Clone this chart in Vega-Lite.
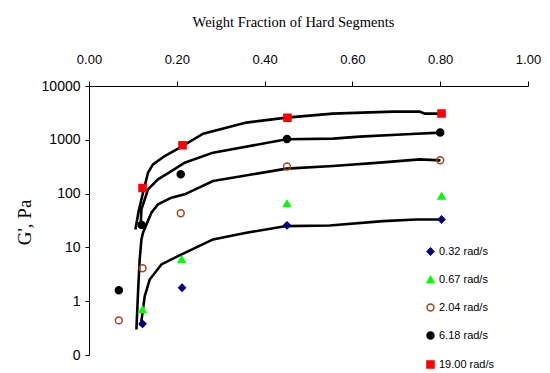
{
  "$schema": "https://vega.github.io/schema/vega-lite/v6.json",
  "width": 439,
  "height": 269,
  "autosize": {"type": "none"},
  "padding": {"left": 89, "top": 86, "right": 22, "bottom": 18},
  "background": "white",
  "datasets": {
    "curves": [
      {"curve": "c19", "x": 0.1057, "y": 21.6},
      {"curve": "c19", "x": 0.1132, "y": 47.3},
      {"curve": "c19", "x": 0.1230, "y": 104},
      {"curve": "c19", "x": 0.1344, "y": 245},
      {"curve": "c19", "x": 0.1458, "y": 350},
      {"curve": "c19", "x": 0.1724, "y": 499},
      {"curve": "c19", "x": 0.2050, "y": 700},
      {"curve": "c19", "x": 0.2600, "y": 1300},
      {"curve": "c19", "x": 0.3585, "y": 2088},
      {"curve": "c19", "x": 0.4497, "y": 2587},
      {"curve": "c19", "x": 0.5551, "y": 3070},
      {"curve": "c19", "x": 0.6925, "y": 3345},
      {"curve": "c19", "x": 0.7533, "y": 3345},
      {"curve": "c19", "x": 0.7647, "y": 3070},
      {"curve": "c19", "x": 0.8027, "y": 3070},
      {"curve": "c618", "x": 0.1178, "y": 25.6},
      {"curve": "c618", "x": 0.1194, "y": 50.9},
      {"curve": "c618", "x": 0.1344, "y": 120},
      {"curve": "c618", "x": 0.1572, "y": 184},
      {"curve": "c618", "x": 0.1877, "y": 262},
      {"curve": "c618", "x": 0.2180, "y": 376},
      {"curve": "c618", "x": 0.2825, "y": 577},
      {"curve": "c618", "x": 0.4497, "y": 1021},
      {"curve": "c618", "x": 0.5558, "y": 1052},
      {"curve": "c618", "x": 0.6166, "y": 1146},
      {"curve": "c618", "x": 0.7230, "y": 1265},
      {"curve": "c618", "x": 0.8005, "y": 1360},
      {"curve": "c204", "x": 0.1080, "y": 0.297},
      {"curve": "c204", "x": 0.1120, "y": 1.65},
      {"curve": "c204", "x": 0.1155, "y": 5.97},
      {"curve": "c204", "x": 0.1194, "y": 14.1},
      {"curve": "c204", "x": 0.1230, "y": 18.7},
      {"curve": "c204", "x": 0.1421, "y": 44.2},
      {"curve": "c204", "x": 0.1572, "y": 63},
      {"curve": "c204", "x": 0.1877, "y": 84},
      {"curve": "c204", "x": 0.2180, "y": 97},
      {"curve": "c204", "x": 0.2825, "y": 171},
      {"curve": "c204", "x": 0.4497, "y": 291},
      {"curve": "c204", "x": 0.5558, "y": 325},
      {"curve": "c204", "x": 0.6622, "y": 376},
      {"curve": "c204", "x": 0.7533, "y": 433},
      {"curve": "c204", "x": 0.8005, "y": 415},
      {"curve": "c032", "x": 0.1178, "y": 0.343},
      {"curve": "c032", "x": 0.1269, "y": 1.24},
      {"curve": "c032", "x": 0.1383, "y": 2.53},
      {"curve": "c032", "x": 0.1649, "y": 4.82},
      {"curve": "c032", "x": 0.2027, "y": 6.88},
      {"curve": "c032", "x": 0.2825, "y": 14.1},
      {"curve": "c032", "x": 0.3585, "y": 18.7},
      {"curve": "c032", "x": 0.4497, "y": 24.9},
      {"curve": "c032", "x": 0.5483, "y": 25.6},
      {"curve": "c032", "x": 0.6697, "y": 30.8},
      {"curve": "c032", "x": 0.7458, "y": 33.1},
      {"curve": "c032", "x": 0.8027, "y": 33.1}
    ],
    "points": [
      {"series": "0.32 rad/s", "x": 0.122, "y": 0.38},
      {"series": "0.32 rad/s", "x": 0.212, "y": 1.78},
      {"series": "0.32 rad/s", "x": 0.451, "y": 25.7},
      {"series": "0.32 rad/s", "x": 0.803, "y": 33},
      {"series": "0.67 rad/s", "x": 0.122, "y": 0.70},
      {"series": "0.67 rad/s", "x": 0.211, "y": 6.0},
      {"series": "0.67 rad/s", "x": 0.451, "y": 65},
      {"series": "0.67 rad/s", "x": 0.803, "y": 90},
      {"series": "2.04 rad/s", "x": 0.068, "y": 0.44},
      {"series": "2.04 rad/s", "x": 0.122, "y": 4.1},
      {"series": "2.04 rad/s", "x": 0.209, "y": 43},
      {"series": "2.04 rad/s", "x": 0.451, "y": 318},
      {"series": "2.04 rad/s", "x": 0.800, "y": 417},
      {"series": "6.18 rad/s", "x": 0.068, "y": 1.6},
      {"series": "6.18 rad/s", "x": 0.120, "y": 26},
      {"series": "6.18 rad/s", "x": 0.209, "y": 230},
      {"series": "6.18 rad/s", "x": 0.451, "y": 1030},
      {"series": "6.18 rad/s", "x": 0.800, "y": 1370},
      {"series": "19.00 rad/s", "x": 0.122, "y": 127},
      {"series": "19.00 rad/s", "x": 0.213, "y": 790},
      {"series": "19.00 rad/s", "x": 0.452, "y": 2560},
      {"series": "19.00 rad/s", "x": 0.803, "y": 3090}
    ]
  },
  "encoding": {
    "x": {
      "field": "x", "type": "quantitative",
      "scale": {"domain": [0, 1], "nice": false},
      "axis": {"orient": "top", "values": [0, 0.2, 0.4, 0.6, 0.8, 1.0], "format": ".2f", "labelFontSize": 13, "labelFlush": false, "tickSize": 5, "labelPadding": 15, "title": "Weight Fraction of Hard Segments", "titleFontSize": 14.5, "titleX": 204, "titleY": -60, "titleAlign": "center", "titleBaseline": "alphabetic"}
    },
    "y": {
      "field": "y", "type": "quantitative",
      "scale": {"type": "log", "domain": [0.1, 10000], "nice": false},
      "axis": {"values": [0.1, 1, 10, 100, 1000, 10000], "labelExpr": "datum.value < 0.5 ? '0' : format(datum.value, 'd')", "labelFontSize": 14, "labelFlush": false, "tickSize": 4, "labelPadding": 5, "title": "G', Pa", "titleFontSize": 19, "titleX": -59, "titleY": 136, "titleAngle": -90, "titleAlign": "center", "titleBaseline": "alphabetic"}
    }
  },
  "layer": [
    {
      "data": {"name": "curves"},
      "mark": {"type": "line", "color": "black", "strokeWidth": 2.6, "clip": true},
      "encoding": {"detail": {"field": "curve", "type": "nominal"}}
    },
    {
      "data": {"name": "points"},
      "mark": {"type": "point", "strokeWidth": 1.5, "opacity": 1},
      "encoding": {
        "shape": {"field": "series", "type": "nominal", "title": null,
          "scale": {"domain": ["0.32 rad/s", "0.67 rad/s", "2.04 rad/s", "6.18 rad/s", "19.00 rad/s"], "range": ["diamond", "triangle-up", "circle", "circle", "square"]}},
        "fill": {"field": "series", "type": "nominal", "title": null,
          "scale": {"domain": ["0.32 rad/s", "0.67 rad/s", "2.04 rad/s", "6.18 rad/s", "19.00 rad/s"], "range": ["#000080", "#00FF00", "transparent", "#000000", "#FF0000"]}},
        "stroke": {"field": "series", "type": "nominal", "title": null,
          "scale": {"domain": ["0.32 rad/s", "0.67 rad/s", "2.04 rad/s", "6.18 rad/s", "19.00 rad/s"], "range": ["#000080", "#00FF00", "#A0461E", "#000000", "#FF0000"]}},
        "size": {"field": "series", "type": "nominal", "title": null,
          "scale": {"domain": ["0.32 rad/s", "0.67 rad/s", "2.04 rad/s", "6.18 rad/s", "19.00 rad/s"], "range": [45, 50, 40, 50, 100]}}
      }
    }
  ],
  "config": {
    "view": {"stroke": null},
    "axis": {"grid": false, "domainColor": "black", "tickColor": "black", "labelColor": "black", "titleColor": "black", "labelFont": "Liberation Sans", "titleFont": "Liberation Serif", "titleFontWeight": "normal", "domainWidth": 1, "tickWidth": 1},
    "legend": {"orient": "none", "legendX": 336, "legendY": 160, "labelFont": "Liberation Sans", "labelFontSize": 11, "labelColor": "black", "rowPadding": 15, "labelOffset": 3, "padding": 0, "symbolStrokeWidth": 1.5}
  }
}
